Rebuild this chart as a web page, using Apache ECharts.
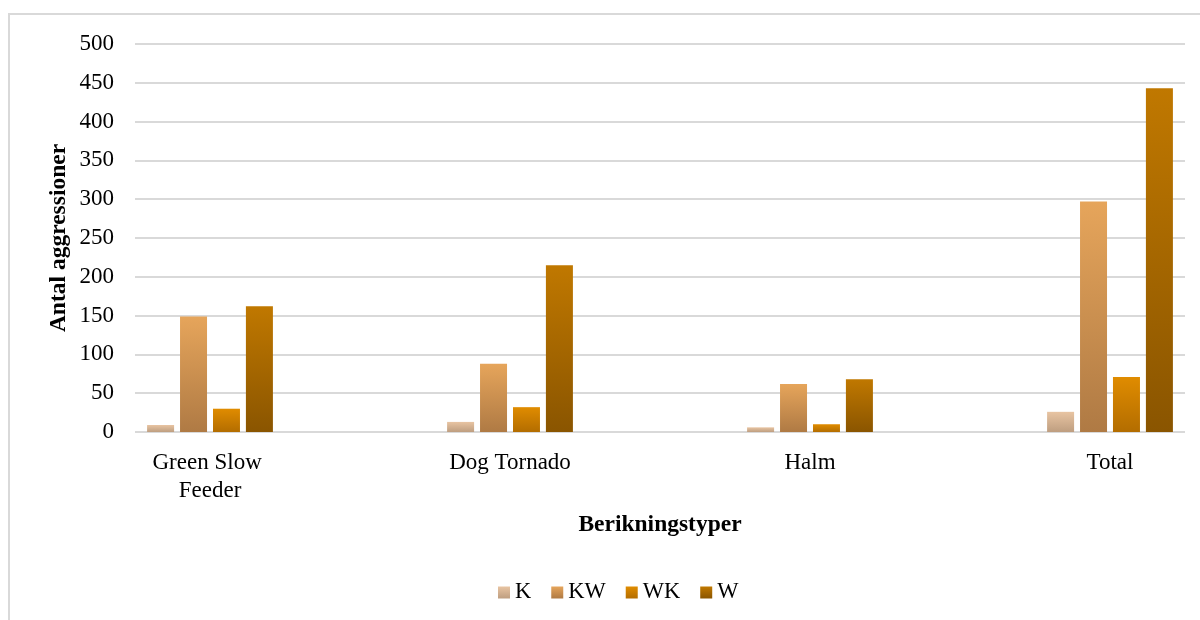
<!DOCTYPE html>
<html>
<head>
<meta charset="utf-8">
<script src="https://cdn.jsdelivr.net/npm/echarts@6/dist/echarts.min.js"></script>
<style>html,body{margin:0;padding:0;background:#fff}#c{width:1200px;height:620px}</style>
</head>
<body>
<div id="c"></div>
<script>
const categories = ['Green Slow Feeder', 'Dog Tornado', 'Halm', 'Total'];
const seriesNames = ['K', 'KW', 'WK', 'W'];
const K  = [9, 13, 6, 26];
const KW = [149, 88, 62, 297];
const WK = [30, 32, 10, 71];
const W  = [162, 215, 68, 443];
const yTicks = { min: 0, max: 500, interval: 50 };

// Spacer slots between categories reproduce the wide gaps of the original layout.
function spread(arr, filler) {
  const out = [];
  arr.forEach((v, i) => { if (i > 0) out.push(filler); out.push(v); });
  return out;
}
const axisCats = spread(categories, '');
const values = [K, KW, WK, W].map(a => spread(a, null));
const gradients = [
  ['#E8C4A2', '#BE9E80'],
  ['#E6A55B', '#AF7A44'],
  ['#E08C00', '#B36D00'],
  ['#C07800', '#8A5500']
];
const font = 'Liberation Serif';

const chart = echarts.init(document.getElementById('c'));
chart.setOption({
  animation: false,
  backgroundColor: '#fff',
  textStyle: { fontFamily: font, color: '#000' },
  graphic: [{
    type: 'rect', silent: true, z: -1,
    shape: { x: 9, y: 14, width: 1300, height: 700 },
    style: { fill: 'none', stroke: '#D9D9D9', lineWidth: 2 }
  }],
  grid: { left: 135, top: 44, width: 1050, height: 388 },
  xAxis: {
    type: 'category', data: axisCats,
    axisLine: { show: false }, axisTick: { show: false },
    axisLabel: { fontFamily: font, fontSize: 23, color: '#000', margin: 17,
      width: 145, overflow: 'break', lineHeight: 28, interval: 0 },
    name: 'Berikningstyper', nameLocation: 'middle', nameGap: 81,
    nameTextStyle: { fontFamily: font, fontSize: 23.5, fontWeight: 'bold', color: '#000' }
  },
  yAxis: {
    type: 'value', min: yTicks.min, max: yTicks.max, interval: yTicks.interval,
    axisLine: { show: false }, axisTick: { show: false },
    axisLabel: { fontFamily: font, fontSize: 23, color: '#000', margin: 21 },
    splitLine: { lineStyle: { color: '#D9D9D9', width: 2 } },
    name: 'Antal aggressioner', nameLocation: 'middle', nameGap: 64, nameMoveOverlap: false,
    nameTextStyle: { fontFamily: font, fontSize: 23.5, fontWeight: 'bold', color: '#000' }
  },
  legend: {
    left: 493, top: 576, itemWidth: 12, itemHeight: 12, itemGap: 20,
    icon: 'rect',
    textStyle: { fontFamily: font, fontSize: 22.5, color: '#000' },
    data: seriesNames
  },
  series: seriesNames.map((n, i) => ({
    name: n, type: 'bar',
    barWidth: 27, barGap: '22%',
    data: values[i],
    itemStyle: {
      color: new echarts.graphic.LinearGradient(0, 0, 0, 1, [
        { offset: 0, color: gradients[i][0] },
        { offset: 1, color: gradients[i][1] }
      ])
    }
  }))
});
</script>
</body>
</html>
